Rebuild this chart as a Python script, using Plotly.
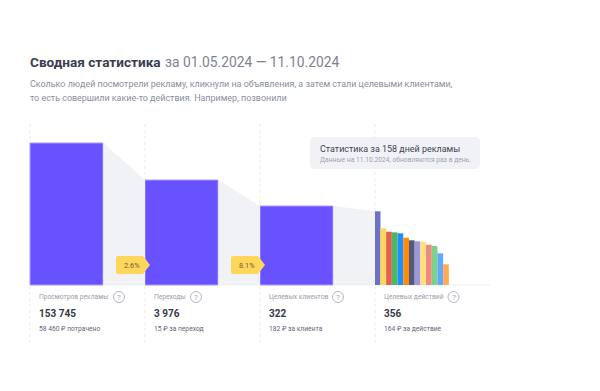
import plotly.graph_objects as go

W, H = 600, 391
BASE_Y = 285

# --- data ---
funnel_labels = ["Просмотров рекламы", "Переходы", "Целевых клиентов", "Целевых действий"]
funnel_values = ["153 745", "3 976", "322", "356"]
funnel_costs = ["58 460 ₽ потрачено", "15 ₽ за переход", "182 ₽ за клиента", "164 ₽ за действие"]
funnel_heights = [142, 105, 79]
funnel_x = [66.5, 181.5, 296.5]
conversion_labels = ["2.6%", "8.1%"]
action_heights = [73.7, 56.7, 53.3, 52.7, 51.7, 47.3, 44.7, 43.7, 43.3, 40.3, 39, 31.7, 20.7]
action_x = [377.6, 383.3, 389, 394.7, 400.4, 406.1, 411.8, 417.5, 423.2, 428.9, 434.6, 440.3, 446]
action_colors = ["#6c70c6", "#ffd65c", "#e2604f", "#4db862", "#1e8fff", "#ff8c05", "#54597c",
                 "#9c96da", "#ffe07d", "#ee8b80", "#7bd38b", "#60a9fb", "#ffab4e"]
grid_x = [30, 145, 260, 375]

fig = go.Figure()

# grey connectors
conn_x0 = [103.5, 218.5, 333.5]
conn_x1 = [145, 260, 375]
conn_h1 = funnel_heights[1:] + [action_heights[0]]
for x0, x1, h0, h1 in zip(conn_x0, conn_x1, funnel_heights, conn_h1):
    fig.add_trace(go.Scatter(x=[x0, x1, x1, x0, x0], y=[h0, h1, 0, 0, h0], mode="lines",
                             fill="toself", fillcolor="#f1f2f6", line=dict(width=0), hoverinfo="skip"))

fig.add_trace(go.Bar(x=funnel_x, y=funnel_heights, width=73, marker=dict(color="#6851ff",
              line=dict(color="#a89dff", width=1))))
fig.add_trace(go.Bar(x=action_x, y=action_heights, width=5.7, marker=dict(color=action_colors, line=dict(width=0))))


def px(x):
    return x / W


def py(y):
    return 1 - y / H


shapes = []
for x in grid_x:
    shapes.append(dict(type="line", xref="x", yref="paper", x0=x, x1=x, y0=py(124), y1=py(343),
                       line=dict(color="#e8e9ee", width=1, dash="dot"), layer="below"))
shapes.append(dict(type="line", xref="x", yref="paper", x0=30, x1=490, y0=py(BASE_Y), y1=py(BASE_Y),
                   line=dict(color="#eeeff3", width=1), layer="below"))


def rrect(x0, y0, x1, y1, r):
    return (f"M{x0 + r},{y0} L{x1 - r},{y0} Q{x1},{y0} {x1},{y0 - r} L{x1},{y1 + r} Q{x1},{y1} {x1 - r},{y1} "
            f"L{x0 + r},{y1} Q{x0},{y1} {x0},{y1 + r} L{x0},{y0 - r} Q{x0},{y0} {x0 + r},{y0} Z")


# y data axis: value = BASE_Y - pixel y
def d(y):
    return BASE_Y - y


# tooltip
shapes.append(dict(type="path", xref="x", yref="y", path=rrect(310, d(137), 480, d(169), 5),
                   fillcolor="#f1f2f6", line=dict(width=0)))

# callouts + question circles
for cx in [116, 231]:
    x0, x1 = cx, cx + 27
    y0, y1 = 256, 274
    r = 2
    path = (f"M{x0 + r},{d(y0)} L{x1},{d(y0)} L{x1 + 7},{d((y0 + y1) / 2)} L{x1},{d(y1)} L{x0 + r},{d(y1)} "
            f"Q{x0},{d(y1)} {x0},{d(y1 - r)} L{x0},{d(y0 + r)} Q{x0},{d(y0)} {x0 + r},{d(y0)} Z")
    shapes.append(dict(type="path", xref="x", yref="y", path=path, fillcolor="#ffd65c", line=dict(width=0)))

q_x = [119, 196, 338, 453.5]
for x in q_x:
    shapes.append(dict(type="circle", xref="x", yref="paper", x0=x - 5.5, x1=x + 5.5, y0=py(297 - 5.5), y1=py(297 + 5.5),
                       line=dict(color="#b5b8c4", width=1), fillcolor="white"))

annotations = []
FONT = "Roboto, sans-serif"


def text(x, y, s, size, color, anchor="left", bold=False):
    annotations.append(dict(xref="paper", yref="paper", x=px(x), y=py(y), text=f"<b>{s}</b>" if bold else s,
                            showarrow=False, xanchor=anchor, yanchor="middle", align=anchor,
                            font=dict(family=FONT, size=size, color=color), borderpad=0))


text(29, 62, "Сводная статистика", 13.6, "#3a3d50", bold=True)
text(163.5, 62, "за 01.05.2024 — 11.10.2024", 13.8, "#7d8194")
text(29, 84, "Сколько людей посмотрели рекламу, кликнули на объявления, а затем стали целевыми клиентами,", 8.95, "#8b8e9e")
text(29, 98, "то есть совершили какие-то действия. Например, позвонили", 8.95, "#8b8e9e")
text(319, 148.5, "Статистика за 158 дней рекламы", 8.95, "#3f4254")
text(319, 159.5, "Данные на 11.10.2024, обновляются раз в день.", 6.7, "#a0a3b1")

label_x = [38, 153, 268, 383]
for i, x in enumerate(label_x):
    text(x, 297, funnel_labels[i], 6.7, "#9a9daa")
    text(x, 313, funnel_values[i], 10, "#34374a", bold=True)
    text(x, 328.5, funnel_costs[i], 6.7, "#62657a")
for x in q_x:
    text(x, 297, "?", 8, "#a6a9b6", anchor="center")
for x, s in zip([132, 247], conversion_labels):
    text(x, 265, s, 7.3, "#6e6130", anchor="center")

fig.update_layout(
    width=W, height=H, autosize=False, margin=dict(l=0, r=0, t=0, b=0),
    paper_bgcolor="white", plot_bgcolor="white", showlegend=False, barmode="overlay",
    xaxis=dict(range=[0, W], visible=False, fixedrange=True),
    yaxis=dict(range=[BASE_Y - H, BASE_Y], visible=False, fixedrange=True),
    shapes=shapes, annotations=annotations,
)
fig.write_html("out.html", config=dict(displayModeBar=False),
               post_script="document.body.style.margin='0';document.body.style.overflow='hidden';")
